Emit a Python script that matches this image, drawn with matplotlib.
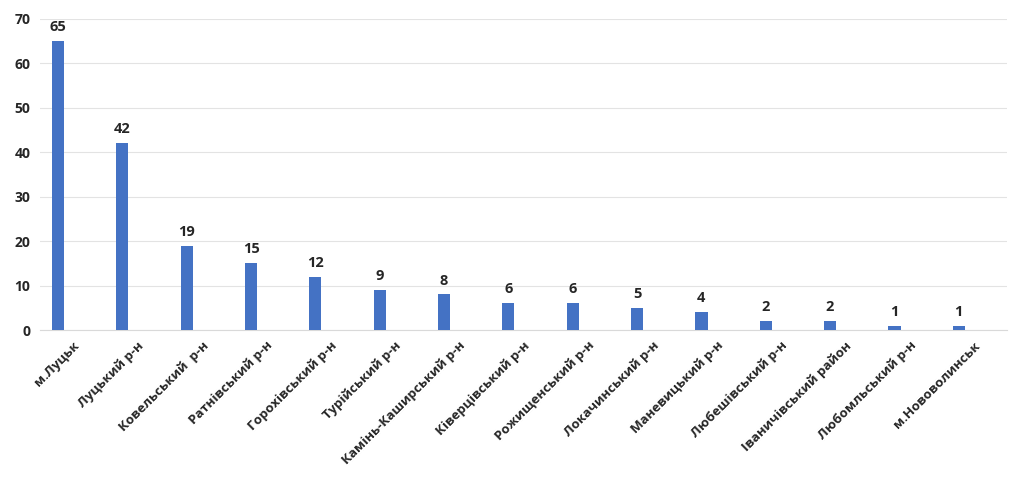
import numpy as np
import matplotlib.pyplot as plt
import matplotlib.transforms as mtransforms

plt.rcParams['font.family'] = ['Open Sans', 'DejaVu Sans']

# Data
districts = [
    'м.Луцьк', 'Луцький р-н', 'Ковельський  р-н', 'Ратнівський р-н',
    'Горохівський р-н', 'Турійський р-н', 'Камінь-Каширський р-н',
    'Ківерцівський р-н', 'Рожищенський р-н', 'Локачинський р-н',
    'Маневицький р-н', 'Любешівський р-н', 'Іваничівський район',
    'Любомльський р-н', 'м.Нововолинськ',
]
counts = [65, 42, 19, 15, 12, 9, 8, 6, 6, 5, 4, 2, 2, 1, 1]
y_ticks = [0, 10, 20, 30, 40, 50, 60, 70]

BAR_COLOR = '#4472C4'
TEXT_COLOR = '#262626'

fig = plt.figure(figsize=(10.24, 4.82), dpi=100)
ax = fig.add_axes([40 / 1024, 152 / 482, 967 / 1024, 311 / 482])

x = np.arange(len(districts))
ax.bar(x, counts, width=0.19, color=BAR_COLOR, zorder=3)

# value labels above bars
for xi, v in zip(x, counts):
    ax.annotate(str(v), (xi, v), xytext=(0, 5), textcoords='offset points',
                ha='center', va='bottom', fontsize=10.5, fontweight='bold',
                color=TEXT_COLOR)

ax.set_xlim(-0.28, len(districts) - 0.25)
ax.set_ylim(0, 70)
ax.set_yticks(y_ticks)
ax.set_xticks(x)
ax.set_xticklabels([])

# category labels, rotated and nudged right of the bar like the original
label_tr = ax.get_xaxis_transform() + mtransforms.ScaledTranslation(
    15 / 100, -9 / 100, fig.dpi_scale_trans)
for xi, name in zip(x, districts):
    ax.text(xi, 0, name, transform=label_tr, rotation=45, ha='right', va='top',
            rotation_mode='anchor', fontsize=9.5, fontweight='bold',
            color=TEXT_COLOR)

for lbl in ax.get_yticklabels():
    lbl.set_fontweight('bold')
    lbl.set_color(TEXT_COLOR)
    lbl.set_fontsize(10)

ax.grid(axis='y', color='#e3e3e3', linewidth=0.8, zorder=0)
for side in ['top', 'right', 'left']:
    ax.spines[side].set_visible(False)
ax.spines['bottom'].set_color('#d9d9d9')
ax.tick_params(axis='both', length=0)
ax.tick_params(axis='y', pad=7)

fig.savefig('out.png', dpi=100)
